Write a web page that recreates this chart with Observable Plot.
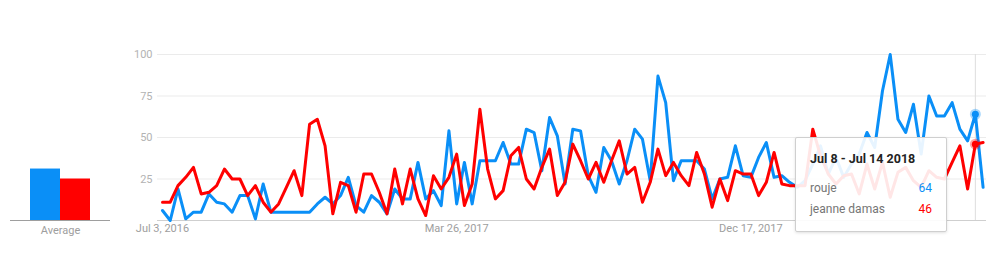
<!DOCTYPE html>
<html><head><meta charset="utf-8">
<script src="https://cdn.jsdelivr.net/npm/d3@7"></script>
<script src="https://cdn.jsdelivr.net/npm/@observablehq/plot@0.6"></script>
<style>
body{margin:0;background:#fff;font-family:Roboto,"Noto Sans",sans-serif;}
#wrap{position:relative;width:986px;height:263px;overflow:hidden;}
#wrap svg{position:absolute;top:0;left:0;overflow:visible;}
#tip{position:absolute;left:795px;top:137px;width:152px;height:95px;box-sizing:border-box;background:rgba(255,255,255,0.9);border:1px solid #cfcfcf;border-radius:2px;box-shadow:0 1px 3px rgba(0,0,0,0.12);font-family:Roboto,sans-serif;}
#tip .t{position:absolute;left:14px;top:14px;font-size:12.5px;font-weight:bold;color:#222;line-height:14px;white-space:nowrap;}
#tip .r{position:absolute;left:14px;right:14px;font-size:12px;color:#757575;line-height:14px;white-space:nowrap;}
#tip .r span{position:absolute;right:0;top:0;}
</style></head><body><div id="wrap"></div>
<script>
const seriesNames = ["rouje", "jeanne damas"];
const seriesColors = ["#0a8ff7", "#ff0000"];
const startDate = "2016-07-03";
const rouje = [6,0,19,1,5,5,16,11,10,5,15,15,1,22,5,5,5,5,5,5,10,14,10,15,26,9,5,15,11,4,19,13,13,35,13,18,9,54,10,35,10,36,36,36,47,34,34,55,53,30,62,51,22,55,54,27,17,44,36,22,36,55,49,24,87,71,24,36,36,36,31,13,25,26,45,27,26,38,47,26,27,23,20,24,34,45,28,38,26,34,40,53,44,78,100,61,53,70,40,75,63,63,71,55,48,64,20];
const jeanneDamas = [11,11,21,26,32,16,17,21,31,25,25,15,21,11,5,10,20,30,15,58,61,45,4,23,21,5,28,28,17,4,31,10,31,13,3,27,19,26,40,9,22,67,31,13,18,39,44,25,19,32,43,15,23,46,36,25,35,23,36,48,28,32,11,23,43,27,35,27,21,41,28,8,25,12,30,28,28,15,23,41,22,21,21,21,55,39,28,22,27,28,16,34,19,35,14,29,32,24,20,30,26,25,35,45,19,46,47];
const averages = [31, 25];
const yTicks = [25, 50, 75, 100];
const xTickDates = ["2016-07-03", "2017-03-26", "2017-12-17"];
const hoverIndex = 105;
const averageLabel = "Average";

const parse = d3.utcParse("%Y-%m-%d");
const t0 = parse(startDate);
const values = [rouje, jeanneDamas];
const data = [];
values.forEach((arr, s) => arr.forEach((v, i) => data.push({date: d3.utcWeek.offset(t0, i), series: seriesNames[s], value: v})));
const hoverDate = d3.utcWeek.offset(t0, hoverIndex);
const hover = values.map((arr, s) => ({date: hoverDate, series: seriesNames[s], value: arr[hoverIndex]}));
const lastDate = d3.utcWeek.offset(t0, rouje.length - 1);

const main = Plot.plot({
  width: 986, height: 263,
  marginLeft: 162, marginRight: 3.4, marginTop: 54, marginBottom: 43,
  x: {type: "utc", domain: [t0, lastDate], axis: null},
  y: {domain: [0, 100], axis: null},
  color: {domain: seriesNames, range: seriesColors},
  style: {fontFamily: "Roboto, sans-serif", background: "transparent"},
  marks: [
    Plot.ruleY(yTicks, {stroke: "#ebebeb", insetLeft: -5, insetRight: -4}),
    Plot.ruleY([0], {stroke: "#cfcfcf", insetLeft: -5, insetRight: -4}),
    Plot.axisY({ticks: yTicks, tickSize: 0, tickPadding: 10, fill: "#b3b3b3", fontSize: 11, label: null}),
    Plot.axisX({ticks: xTickDates.map(parse), tickSize: 0, tickPadding: 4, tickFormat: d3.utcFormat("%b %-d, %Y"), fill: "#9e9e9e", fontSize: 11, label: null}),
    Plot.ruleX([hoverDate], {y1: 0, y2: 100, stroke: "#dddddd"}),
    Plot.line(data, {x: "date", y: "value", z: "series", stroke: "series", strokeWidth: 3}),
    Plot.dot(hover, {x: "date", y: "value", fill: "series", stroke: "series", r: 3.5, strokeOpacity: 0.35, strokeWidth: 4})
  ]
});

const avgData = seriesNames.map((n, i) => ({name: n, value: averages[i]}));
const avg = Plot.plot({
  width: 130, height: 263,
  marginLeft: 30, marginRight: 40, marginTop: 54, marginBottom: 43,
  x: {domain: seriesNames, padding: 0, axis: null},
  y: {domain: [0, 100], axis: null},
  color: {domain: seriesNames, range: seriesColors},
  style: {fontFamily: "Roboto, sans-serif", background: "transparent"},
  marks: [
    Plot.barY(avgData, {x: "name", y: "value", fill: "name"}),
    Plot.ruleY([0], {stroke: "#9e9e9e", insetLeft: -20, insetRight: -20}),
    Plot.text([averageLabel], {text: d => d, frameAnchor: "bottom", dy: 10, lineAnchor: "middle", fill: "#9e9e9e", fontSize: 11})
  ]
});

const wrap = document.getElementById("wrap");
wrap.appendChild(main);
wrap.appendChild(avg);

const tip = document.createElement("div");
tip.id = "tip";
const endDate = d3.utcDay.offset(hoverDate, 6);
const title = d3.utcFormat("%b %-d")(hoverDate) + " - " + d3.utcFormat("%b %-d %Y")(endDate);
let html = `<div class="t">${title}</div>`;
hover.forEach((h, i) => {
  html += `<div class="r" style="top:${43 + i * 21}px">${h.series}<span style="color:${seriesColors[i]}">${h.value}</span></div>`;
});
tip.innerHTML = html;
wrap.appendChild(tip);
</script>
</body></html>
